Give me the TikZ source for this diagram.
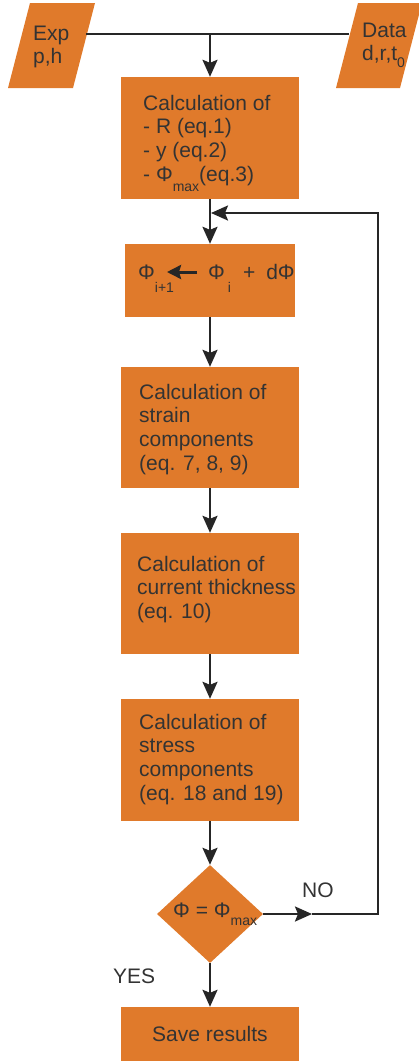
\documentclass[tikz,border=0pt]{standalone}
\usepackage{fontspec}
\setmainfont{Liberation Sans}
\usetikzlibrary{arrows.meta,shapes.geometric}
\definecolor{boxorange}{HTML}{E07A2B}
\definecolor{ink}{HTML}{262626}
\definecolor{txtc}{HTML}{333333}
\newcommand{\lowsub}[2]{\raisebox{-#1}{\fontsize{14}{14}\selectfont #2}}
\newcommand{\lines}[1]{\begin{tabular}[t]{@{}l@{}}#1\end{tabular}}
\begin{document}
\begin{tikzpicture}[x=1pt,y=-1pt,font=\fontsize{21}{23.8}\selectfont,
  procbox/.style={fill=boxorange,inner sep=0,minimum width=178pt,minimum height=121pt,text=txtc},
  txt/.style={text=txtc,inner sep=0,anchor=base west},
  conn/.style={draw=ink,line width=2.4pt},
  arr/.style={conn,-{Stealth[length=17pt,width=15pt,inset=3pt]}}]
\useasboundingbox (0,0) rectangle (418,1061);
% input parallelograms
\fill[boxorange] (30,3) -- (95,3) -- (73,88) -- (8,88) -- cycle;
\fill[boxorange] (358,3) -- (422,3) -- (400,88) -- (336,88) -- cycle;
\node[txt] (exp) at (33,40) {\lines{Exp\\p,h}};
\node[txt] (data) at (362,37) {\lines{Data\\d,r,t\lowsub{7pt}{0}}};
% boxes
\node[procbox,minimum height=122pt] (b1) at (210,138) {};
\node[txt] (t1) at (143,110) {\lines{Calculation of\\- R (eq.1)\\- y (eq.2)\\- Φ\lowsub{10pt}{max}(eq.3)}};
\node[procbox,minimum width=170pt,minimum height=73pt] (b2) at (210,280.5) {};
\node[txt] (p1) at (138,279) {Φ\lowsub{13pt}{i+1}};
\node[txt] (p2) at (208,279) {Φ\hspace{3pt}\lowsub{13pt}{i}\hspace{12pt}+\hspace{11pt}dΦ};
\coordinate (ia) at (197,272);
\coordinate (ib) at (167,272);
\draw[conn,line width=3pt,-{Stealth[length=14pt,width=14pt,inset=2pt]}] (ia) -- (ib);
\node[procbox] (b3) at (210,427.5) {};
\node[txt] (t3) at (139,399) {\lines{Calculation of\\strain\\components\\(eq. 7, 8, 9)}};
\node[procbox] (b4) at (210,593.5) {};
\node[txt] (t4) at (137,571) {\lines{Calculation of\\current thickness\\(eq. 10)}};
\node[procbox,minimum height=122pt] (b5) at (210,760) {};
\node[txt] (t5) at (139,729) {\lines{Calculation of\\stress\\components\\(eq. 18 and 19)}};
\node[diamond,fill=boxorange,inner sep=0,minimum width=106pt,minimum height=98pt] (dia) at (210,914) {};
\node[txt] (dt) at (173,917) {Φ = Φ\lowsub{8pt}{max}};
\node[procbox,minimum height=54pt] (b6) at (210,1034) {Save results};
% labels
\node[txt] (no) at (302,897) {NO};
\node[txt] (yes) at (113,983) {YES};
% connectors
\coordinate (expR) at (86,34);
\coordinate (dataL) at (349,34);
\coordinate (top) at (210,34);
\draw[conn] (expR) -- (dataL);
\draw[arr] (top) -- (b1.north);
\draw[arr] (b1.south) -- (b2.north);
\draw[arr] (b2.south) -- (b3.north);
\draw[arr] (b3.south) -- (b4.north);
\draw[arr] (b4.south) -- (b5.north);
\draw[arr] (b5.south) -- (dia.north);
\draw[arr] (dia.south) -- (b6.north);
\coordinate (nomid) at (312,914);
\coordinate (loopTop) at (378,213);
\coordinate (join) at (211,213);
\draw[arr] (dia.east) -- (nomid);
\draw[arr] (nomid) -| (loopTop) -- (join);
\end{tikzpicture}
\end{document}
